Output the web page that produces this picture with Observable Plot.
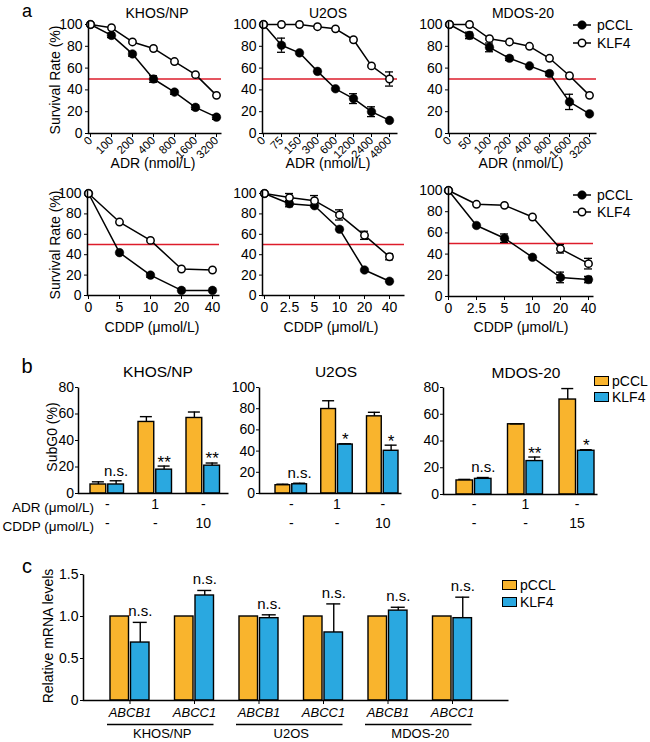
<!DOCTYPE html>
<html>
<head>
<meta charset="utf-8">
<script src="https://cdn.jsdelivr.net/npm/d3@7"></script>
<script src="https://cdn.jsdelivr.net/npm/@observablehq/plot@0.6"></script>
<style>
html, body { margin: 0; padding: 0; background: #fff; }
#fig { position: relative; width: 650px; height: 742px; overflow: hidden; font-family: "Liberation Sans", Arial, Helvetica, sans-serif; color: #000; background: #fff; }
.rotx [aria-label^="x-axis"] text { font-size: 11.5px; }
.ital [aria-label^="x-axis"] text { font-style: italic; font-size: 13px; }
</style>
</head>
<body>
<div id="fig"></div>
<script>
// ================= DATA =================
const seriesNames = ["pCCL", "KLF4"];
const cellLines = ["KHOS/NP", "U2OS", "MDOS-20"];
const survivalTicks = [0, 20, 40, 60, 80, 100];
const ic50Line = [50];

// Panel a, top row: ADR (nmol/L)
const adrDoseKHOS = ["0", "100", "200", "400", "800", "1600", "3200"];
const adrKHOS_pCCL = [100, 90, 73, 50, 38, 24, 15];
const adrKHOS_pCCL_err = [0, 2, 2, 3, 2, 2, 2];
const adrKHOS_KLF4 = [100, 97, 84, 78, 66, 54, 35];
const adrKHOS_KLF4_err = [0, 0, 0, 0, 0, 0, 0];

const adrDoseU2OS = ["0", "75", "150", "300", "600", "1200", "2400", "4800"];
const adrU2OS_pCCL = [100, 81, 74, 57, 41, 32, 20, 12];
const adrU2OS_pCCL_err = [0, 6.5, 0, 0, 0, 4.5, 4.5, 0];
const adrU2OS_KLF4 = [100, 100, 100, 98, 96, 86, 62, 50];
const adrU2OS_KLF4_err = [0, 0, 0, 0, 0, 0, 0, 6.5];

const adrDoseMDOS = ["0", "50", "100", "200", "400", "800", "1600", "3200"];
const adrMDOS_pCCL = [100, 90, 79, 69, 62, 55, 29, 18];
const adrMDOS_pCCL_err = [0, 3, 4, 2, 0, 2, 7, 0];
const adrMDOS_KLF4 = [100, 100, 87, 84, 80, 69, 53, 35];
const adrMDOS_KLF4_err = [0, 0, 0, 0, 0, 0, 0, 0];

// Panel a, bottom row: CDDP (µmol/L)
const cddpDoseKHOS = ["0", "5", "10", "20", "40"];
const cddpKHOS_pCCL = [100, 42, 20, 5, 5];
const cddpKHOS_pCCL_err = [0, 0, 2, 0, 0];
const cddpKHOS_KLF4 = [100, 72, 54, 26, 25];
const cddpKHOS_KLF4_err = [0, 0, 0, 0, 0];

const cddpDoseU2OS = ["0", "2.5", "5", "10", "20", "40"];
const cddpU2OS_pCCL = [100, 90, 88, 65, 25, 14];
const cddpU2OS_pCCL_err = [0, 3, 0, 0, 0, 0];
const cddpU2OS_KLF4 = [100, 96, 93, 79, 59, 38];
const cddpU2OS_KLF4_err = [0, 4, 5, 5, 4, 3];

const cddpDoseMDOS = ["0", "2.5", "5", "10", "20", "40"];
const cddpMDOS_pCCL = [100, 67, 55, 37, 18, 16];
const cddpMDOS_pCCL_err = [0, 0, 4, 0, 5, 3];
const cddpMDOS_KLF4 = [100, 87, 86, 75, 45, 31];
const cddpMDOS_KLF4_err = [0, 0, 0, 0, 4, 5];

// Panel b: SubG0 (%)
const subG0Groups = ["control", "ADR", "CDDP"];
const subG0RowADR = ["-", "1", "-"];
const subG0RowCDDP_KHOS = ["-", "-", "10"];
const subG0RowCDDP_U2OS = ["-", "-", "10"];
const subG0RowCDDP_MDOS = ["-", "-", "15"];
const subG0Ticks80 = [0, 20, 40, 60, 80];
const subG0Ticks100 = [0, 20, 40, 60, 80, 100];

const subG0KHOS_pCCL = [6.8, 54, 57];
const subG0KHOS_pCCL_err = [2, 4, 4.5];
const subG0KHOS_KLF4 = [6.8, 18, 21];
const subG0KHOS_KLF4_err = [2.8, 2.7, 2];
const subG0KHOS_sig = ["n.s.", "**", "**"];

const subG0U2OS_pCCL = [7.8, 79.7, 72.8];
const subG0U2OS_pCCL_err = [1, 7.8, 3.8];
const subG0U2OS_KLF4 = [8.7, 46.2, 40.3];
const subG0U2OS_KLF4_err = [1, 0.7, 5.3];
const subG0U2OS_sig = ["n.s.", "*", "*"];

const subG0MDOS_pCCL = [10.5, 52.5, 71];
const subG0MDOS_pCCL_err = [0.8, 0.3, 8.2];
const subG0MDOS_KLF4 = [11.7, 25, 32.7];
const subG0MDOS_KLF4_err = [1, 3, 0.8];
const subG0MDOS_sig = ["n.s.", "**", "*"];

// Panel c: relative mRNA levels
const mrnaCells = ["KHOS/NP", "U2OS", "MDOS-20"];
const mrnaGenes = ["ABCB1", "ABCC1"];
const mrna_pCCL = [1, 1, 1, 1, 1, 1];
const mrna_pCCL_err = [0, 0, 0, 0, 0, 0];
const mrna_KLF4 = [0.69, 1.25, 0.98, 0.81, 1.07, 0.98];
const mrna_KLF4_err = [0.24, 0.06, 0.04, 0.34, 0.04, 0.25];
const mrna_sig = ["n.s.", "n.s.", "n.s.", "n.s.", "n.s.", "n.s."];
const mrnaTicks = [0, 0.5, 1.0, 1.5];

// ================= STYLE / HELPERS =================
const FONT = '"Liberation Sans", Arial, Helvetica, sans-serif';
const ORANGE = "#F9B42D", BLUE = "#2AA8E0", RED = "#DD1C2B";
const STYLE = {background: "transparent", overflow: "visible", fontFamily: FONT, fontSize: "14px", color: "#000", maxWidth: "none"};
const fig = document.getElementById("fig");

function place(node, left, top, width) {
  const d = document.createElement("div");
  d.style.cssText = `position:absolute;left:${left}px;top:${top}px;width:${width}px;`;
  d.appendChild(node);
  fig.appendChild(d);
}
function label(str, x, y, size, opts = {}) {
  const d = document.createElement("div");
  d.textContent = str;
  const tx = opts.anchor === "start" ? "0" : opts.anchor === "end" ? "-100%" : "-50%";
  d.style.cssText = `position:absolute;left:${x}px;top:${y}px;font-size:${size}px;line-height:1;white-space:nowrap;` +
    `transform:translate(${tx},-50%)${opts.rotate ? " rotate(-90deg)" : ""};font-style:${opts.italic ? "italic" : "normal"};`;
  fig.appendChild(d);
}
function axisFrame(W, H) {
  // only the left and bottom edges of the frame are drawn (axis lines)
  return Plot.frame({stroke: "#000", strokeWidth: 1.5, strokeDasharray: `0,${W + H},${W + H}`});
}
function safe(fn) { try { fn(); } catch (e) { console.error(e); } }

function linePanel(o) {
  const mk = (vals, errs, s) => o.doses.map((d, i) => ({dose: d, value: vals[i], err: errs[i], series: s}));
  const P = mk(o.pccl, o.pcclErr, seriesNames[0]);
  const K = mk(o.klf4, o.klf4Err, seriesNames[1]);
  const E = [...P, ...K].filter(d => d.err > 0);
  const W = o.width - o.ml - o.mr, H = o.height - o.mt - o.mb;
  const plot = Plot.plot({
    width: o.width, height: o.height,
    marginLeft: o.ml, marginRight: o.mr, marginTop: o.mt, marginBottom: o.mb,
    style: STYLE,
    x: {type: "point", domain: o.doses, padding: 0, range: [o.x0 - o.left, o.x1 - o.left],
        tickSize: 4, tickPadding: o.rotate ? 1 : 3, tickRotate: o.rotate ? -45 : 0, label: null},
    y: {domain: [0, 100], range: [o.y0 - o.top, o.y100 - o.top], ticks: survivalTicks,
        tickSize: 3, tickPadding: 3, label: null},
    marks: [
      Plot.ruleY(ic50Line, {stroke: RED, strokeWidth: 1.6}),
      Plot.line(P, {x: "dose", y: "value", stroke: "#000", strokeWidth: 1.5}),
      Plot.line(K, {x: "dose", y: "value", stroke: "#000", strokeWidth: 1.5}),
      Plot.ruleX(E, {x: "dose", y1: d => d.value - d.err, y2: d => d.value + d.err, stroke: "#000", strokeWidth: 1.3}),
      Plot.ruleY(E, {x1: "dose", x2: "dose", y: d => d.value + d.err, insetLeft: -4, insetRight: -4, stroke: "#000", strokeWidth: 1.3}),
      Plot.ruleY(E, {x1: "dose", x2: "dose", y: d => d.value - d.err, insetLeft: -4, insetRight: -4, stroke: "#000", strokeWidth: 1.3}),
      Plot.dot(P, {x: "dose", y: "value", r: 4.3, fill: "#000", stroke: "#000", strokeWidth: 0.5}),
      Plot.dot(K, {x: "dose", y: "value", r: 3.7, fill: "#fff", stroke: "#000", strokeWidth: 1.5}),
      axisFrame(W, H)
    ]
  });
  if (o.rotate) plot.classList.add("rotx");
  place(plot, o.left, o.top, o.width);
}

function bandOptions(o, n) {
  const pi = 1 - o.bw / o.step;
  const extra = (o.x1 - o.x0) - o.step * (n - pi);
  return {paddingInner: pi, paddingOuter: extra / (2 * o.step), align: (o.first - o.x0) / extra, round: false,
          range: [o.x0 - o.left, o.x1 - o.left]};
}

function barMarks(o, P, K) {
  const gap = 2, half = (o.bw - gap) / 2;
  const cP = half / 2, cK = o.bw - half / 2;
  const dxP = cP - o.bw / 2, dxK = cK - o.bw / 2;
  const cap = o.cap;
  const PE = P.filter(d => d.err > 0), KE = K.filter(d => d.err > 0);
  const top = d => d.value + d.err;
  return [
    Plot.barY(P, {x: "group", y: "value", fill: ORANGE, stroke: "#000", strokeWidth: 1.4, insetRight: o.bw - half}),
    Plot.barY(K, {x: "group", y: "value", fill: BLUE, stroke: "#000", strokeWidth: 1.4, insetLeft: o.bw - half}),
    Plot.ruleX(PE, {x: "group", y1: "value", y2: top, dx: dxP, stroke: "#000", strokeWidth: 1.4}),
    Plot.tickY(PE, {x: "group", y: top, insetLeft: cP - cap, insetRight: o.bw - cP - cap, stroke: "#000", strokeWidth: 1.4}),
    Plot.ruleX(KE, {x: "group", y1: "value", y2: top, dx: dxK, stroke: "#000", strokeWidth: 1.4}),
    Plot.tickY(KE, {x: "group", y: top, insetLeft: cK - cap, insetRight: o.bw - cK - cap, stroke: "#000", strokeWidth: 1.4}),
    Plot.text(K.filter(d => d.note === "n.s."), {x: "group", y: top, text: "note", dx: dxK, dy: o.nsDy, fontSize: o.noteSize}),
    Plot.text(K.filter(d => d.note && d.note !== "n.s."), {x: "group", y: top, text: "note", dx: dxK, dy: o.starDy, fontSize: o.starSize})
  ];
}

function subG0Panel(o) {
  const mk = (vals, errs) => subG0Groups.map((g, i) => ({group: g, value: vals[i], err: errs[i], note: o.sig[i], adr: subG0RowADR[i], cddp: o.cddpRow[i]}));
  const P = mk(o.pccl, o.pcclErr).map(d => ({...d, note: ""}));
  const K = mk(o.klf4, o.klf4Err);
  const W = o.width - o.ml - o.mr, H = o.height - o.mt - o.mb;
  const plot = Plot.plot({
    width: o.width, height: o.height,
    marginLeft: o.ml, marginRight: o.mr, marginTop: o.mt, marginBottom: o.mb,
    style: STYLE,
    x: {type: "band", domain: subG0Groups, ...bandOptions(o, subG0Groups.length), axis: null},
    y: {domain: [0, o.ymax], range: [o.y0 - o.top, o.ytop - o.top], ticks: o.ticks, tickSize: 3, tickPadding: 1.5, label: null},
    marks: [
      ...barMarks(o, P, K),
      Plot.text(K, {x: "group", text: "adr", frameAnchor: "bottom", dy: o.row1 - o.y0, fontSize: 14}),
      Plot.text(K, {x: "group", text: "cddp", frameAnchor: "bottom", dy: o.row2 - o.y0, fontSize: 14}),
      axisFrame(W, H)
    ]
  });
  place(plot, o.left, o.top, o.width);
}

function mrnaPanel(o) {
  const groups = mrnaCells.flatMap(c => mrnaGenes.map(g => `${c}|${g}`));
  const P = groups.map((g, i) => ({group: g, value: mrna_pCCL[i], err: mrna_pCCL_err[i], note: ""}));
  const K = groups.map((g, i) => ({group: g, value: mrna_KLF4[i], err: mrna_KLF4_err[i], note: mrna_sig[i]}));
  const U = mrnaCells.map(c => ({cell: c, g1: `${c}|${mrnaGenes[0]}`, g2: `${c}|${mrnaGenes[1]}`}));
  const W = o.width - o.ml - o.mr, H = o.height - o.mt - o.mb;
  const plot = Plot.plot({
    width: o.width, height: o.height,
    marginLeft: o.ml, marginRight: o.mr, marginTop: o.mt, marginBottom: o.mb,
    style: STYLE,
    x: {type: "band", domain: groups, ...bandOptions(o, groups.length), tickSize: 4, tickPadding: 3,
        tickFormat: d => d.split("|")[1], label: null},
    y: {domain: [0, 1.5], range: [o.y0 - o.top, o.ytop - o.top], ticks: mrnaTicks, tickSize: 3, tickPadding: 2,
        tickFormat: d => d === 0 ? "0" : d3.format(".1f")(d), label: null},
    marks: [
      ...barMarks(o, P, K),
      Plot.ruleY(U, {x1: "g1", x2: "g2", y: () => 0, dy: 24, insetLeft: -3, stroke: "#000", strokeWidth: 1.3}),
      Plot.text(U, {x: "g2", text: "cell", frameAnchor: "bottom", dy: 37, dx: -o.step / 2, fontSize: 13}),
      axisFrame(W, H)
    ]
  });
  plot.classList.add("ital");
  place(plot, o.left, o.top, o.width);
}

// legends
function lineLegend(x, yTop, yBot) {
  [[yTop, true, seriesNames[0]], [yBot, false, seriesNames[1]]].forEach(([y, filled, name]) => {
    const s = d3.create("svg").attr("width", 22).attr("height", 12)
      .style("position", "absolute").style("left", `${x}px`).style("top", `${y - 6}px`).style("overflow", "visible");
    s.append("line").attr("x1", 1).attr("x2", 19).attr("y1", 6).attr("y2", 6).attr("stroke", "#000").attr("stroke-width", 1.5);
    s.append("circle").attr("cx", 10).attr("cy", 6).attr("r", filled ? 4.3 : 3.7)
      .attr("fill", filled ? "#000" : "#fff").attr("stroke", "#000").attr("stroke-width", filled ? 0.5 : 1.5);
    fig.appendChild(s.node());
    label(name, x + 25, y, 14, {anchor: "start"});
  });
}
function boxLegend(x, yTop, yBot) {
  [[yTop, ORANGE, seriesNames[0]], [yBot, BLUE, seriesNames[1]]].forEach(([y, col, name]) => {
    const d = document.createElement("div");
    d.style.cssText = `position:absolute;left:${x}px;top:${y - 5}px;width:15px;height:10px;box-sizing:border-box;background:${col};border:1.4px solid #000;`;
    fig.appendChild(d);
    label(name, x + 18, y, 14, {anchor: "start"});
  });
}

// ================= PANEL a =================
const top1 = {y0: 133, y100: 24, top: 0, height: 180, mt: 21, mb: 47, rotate: true};
safe(() => linePanel({...top1, left: 0, width: 230, ml: 88, mr: 9, x0: 88, x1: 217,
  doses: adrDoseKHOS, pccl: adrKHOS_pCCL, pcclErr: adrKHOS_pCCL_err, klf4: adrKHOS_KLF4, klf4Err: adrKHOS_KLF4_err}));
safe(() => linePanel({...top1, left: 200, width: 205, ml: 62, mr: 8, x0: 262, x1: 390,
  doses: adrDoseU2OS, pccl: adrU2OS_pCCL, pcclErr: adrU2OS_pCCL_err, klf4: adrU2OS_KLF4, klf4Err: adrU2OS_KLF4_err}));
safe(() => linePanel({...top1, left: 400, width: 205, ml: 48, mr: 9, x0: 448, x1: 589,
  doses: adrDoseMDOS, pccl: adrMDOS_pCCL, pcclErr: adrMDOS_pCCL_err, klf4: adrMDOS_KLF4, klf4Err: adrMDOS_KLF4_err}));

const bot1 = {top: 180, height: 140, rotate: false};
safe(() => linePanel({...bot1, y0: 295, y100: 193, mt: 10, mb: 25, left: 0, width: 230, ml: 87, mr: 11, x0: 87, x1: 213,
  doses: cddpDoseKHOS, pccl: cddpKHOS_pCCL, pcclErr: cddpKHOS_pCCL_err, klf4: cddpKHOS_KLF4, klf4Err: cddpKHOS_KLF4_err}));
safe(() => linePanel({...bot1, y0: 295, y100: 193, mt: 10, mb: 25, left: 200, width: 215, ml: 62, mr: 11, x0: 262, x1: 390,
  doses: cddpDoseU2OS, pccl: cddpU2OS_pCCL, pcclErr: cddpU2OS_pCCL_err, klf4: cddpU2OS_KLF4, klf4Err: cddpU2OS_KLF4_err}));
safe(() => linePanel({...bot1, y0: 296, y100: 190, mt: 7, mb: 24, left: 400, width: 205, ml: 48, mr: 12, x0: 448, x1: 588,
  doses: cddpDoseMDOS, pccl: cddpMDOS_pCCL, pcclErr: cddpMDOS_pCCL_err, klf4: cddpMDOS_KLF4, klf4Err: cddpMDOS_KLF4_err}));

label("a", 27, 10.5, 18);
label(cellLines[0], 157, 13, 14);
label(cellLines[1], 328, 13, 14);
label(cellLines[2], 523, 13, 14);
label("ADR (nmol/L)", 153, 163, 14);
label("ADR (nmol/L)", 328, 163, 14);
label("ADR (nmol/L)", 521, 163, 14);
label("CDDP (\u03bcmol/L)", 152, 327, 14);
label("CDDP (\u03bcmol/L)", 331, 327, 14);
label("CDDP (\u03bcmol/L)", 521, 327, 14);
label("Survival Rate (%)", 55, 80, 14, {rotate: true});
label("Survival Rate (%)", 55, 245, 14, {rotate: true});
lineLegend(572, 25, 43);
lineLegend(572, 195, 212);

// ================= PANEL b =================
const bCommon = {top: 360, height: 180, mt: 27, cap: 6, noteSize: 15, starSize: 17, nsDy: -10, starDy: -4};
safe(() => subG0Panel({...bCommon, left: 0, width: 240, ml: 78, mr: 12, mb: 47, x0: 78, x1: 228, first: 90, step: 48, bw: 33.5,
  y0: 493, ytop: 387, ymax: 80, ticks: subG0Ticks80, row1: 508, row2: 527,
  pccl: subG0KHOS_pCCL, pcclErr: subG0KHOS_pCCL_err, klf4: subG0KHOS_KLF4, klf4Err: subG0KHOS_KLF4_err,
  sig: subG0KHOS_sig, cddpRow: subG0RowCDDP_KHOS}));
safe(() => subG0Panel({...bCommon, left: 225, width: 185, ml: 34, mr: 9, mb: 47, x0: 259, x1: 401, first: 275, step: 45.75, bw: 31.5,
  y0: 493, ytop: 387, ymax: 100, ticks: subG0Ticks100, row1: 508, row2: 527,
  pccl: subG0U2OS_pCCL, pcclErr: subG0U2OS_pCCL_err, klf4: subG0U2OS_KLF4, klf4Err: subG0U2OS_KLF4_err,
  sig: subG0U2OS_sig, cddpRow: subG0RowCDDP_U2OS}));
safe(() => subG0Panel({...bCommon, left: 410, width: 195, ml: 33, mr: 8, mb: 46, x0: 443, x1: 597, first: 456, step: 51.5, bw: 35,
  y0: 494, ytop: 387, ymax: 80, ticks: subG0Ticks80, row1: 508, row2: 527,
  pccl: subG0MDOS_pCCL, pcclErr: subG0MDOS_pCCL_err, klf4: subG0MDOS_KLF4, klf4Err: subG0MDOS_KLF4_err,
  sig: subG0MDOS_sig, cddpRow: subG0RowCDDP_MDOS}));

label("b", 27, 366, 20);
label(cellLines[0], 158, 372, 15.5);
label(cellLines[1], 336, 372, 15.5);
label(cellLines[2], 526, 373, 15.5);
label("SubG0 (%)", 52, 437, 14, {rotate: true});
label("ADR (\u03bcmol/L)", 94, 508, 13.5, {anchor: "end"});
label("CDDP (\u03bcmol/L)", 94, 527, 13.5, {anchor: "end"});
boxLegend(594, 381, 397);

// ================= PANEL c =================
safe(() => mrnaPanel({left: 0, top: 550, width: 520, height: 192, ml: 83, mr: 12, mt: 24, mb: 42,
  x0: 83, x1: 508, first: 110, step: 64.5, bw: 39, y0: 700, ytop: 574, cap: 7,
  noteSize: 15, starSize: 17, nsDy: -11, starDy: -5}));
label("c", 27, 566, 20);
label("Relative mRNA levels", 47.5, 636, 14, {rotate: true});
boxLegend(502, 585, 602);
</script>
</body>
</html>
